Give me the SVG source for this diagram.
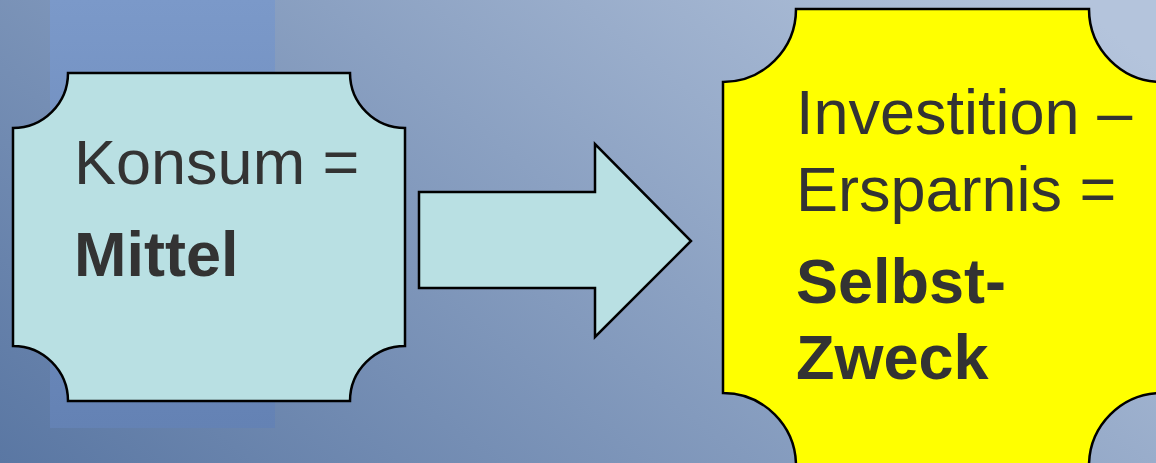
<svg xmlns="http://www.w3.org/2000/svg" width="1156" height="463" viewBox="0 0 1156 463">
<defs>
<linearGradient id="bg" gradientUnits="userSpaceOnUse" x1="0" y1="463" x2="645" y2="-342">
<stop offset="0" stop-color="#5a77a3"/>
<stop offset="1" stop-color="#b4c4dc"/>
</linearGradient>
<linearGradient id="band" x1="0" y1="0" x2="0" y2="1">
<stop offset="0" stop-color="#7b99c9"/>
<stop offset="1" stop-color="#6482b4"/>
</linearGradient>
<style>
.shape{stroke:#000;stroke-width:2.5;stroke-linejoin:miter}
.t{font-family:"Liberation Sans",Arial,sans-serif;font-size:63px;fill:#333333}
.b{font-weight:bold}
</style>
</defs>
<rect width="1156" height="463" fill="url(#bg)"/>
<rect x="50" y="0" width="225" height="428" fill="url(#band)"/>
<g id="node-konsum">
<path class="shape" fill="#b9e0e3" d="M68,73 H350 A55,55 0 0 0 405,128 V346 A55,55 0 0 0 350,401 H68 A55,55 0 0 0 13,346 V128 A55,55 0 0 0 68,73 Z"/>
<text class="t" x="74" y="184">Konsum =</text>
<text class="t b" x="74" y="276">Mittel</text>
</g>
<g id="connectors">
<polygon class="shape" fill="#b9e0e3" points="419,192 595,192 595,144 691,241 595,337 595,288 419,288"/>
</g>
<g id="node-investition">
<path class="shape" fill="#ffff00" d="M796,9 H1089 A73,73 0 0 0 1162,82 V393 A73,73 0 0 0 1089,466 H796 A73,73 0 0 0 723,393 V82 A73,73 0 0 0 796,9 Z"/>
<text class="t" x="796" y="134">Investition –</text>
<text class="t" x="796" y="211">Ersparnis =</text>
<text class="t b" x="796" y="303">Selbst-</text>
<text class="t b" x="796" y="379">Zweck</text>
</g>
</svg>
